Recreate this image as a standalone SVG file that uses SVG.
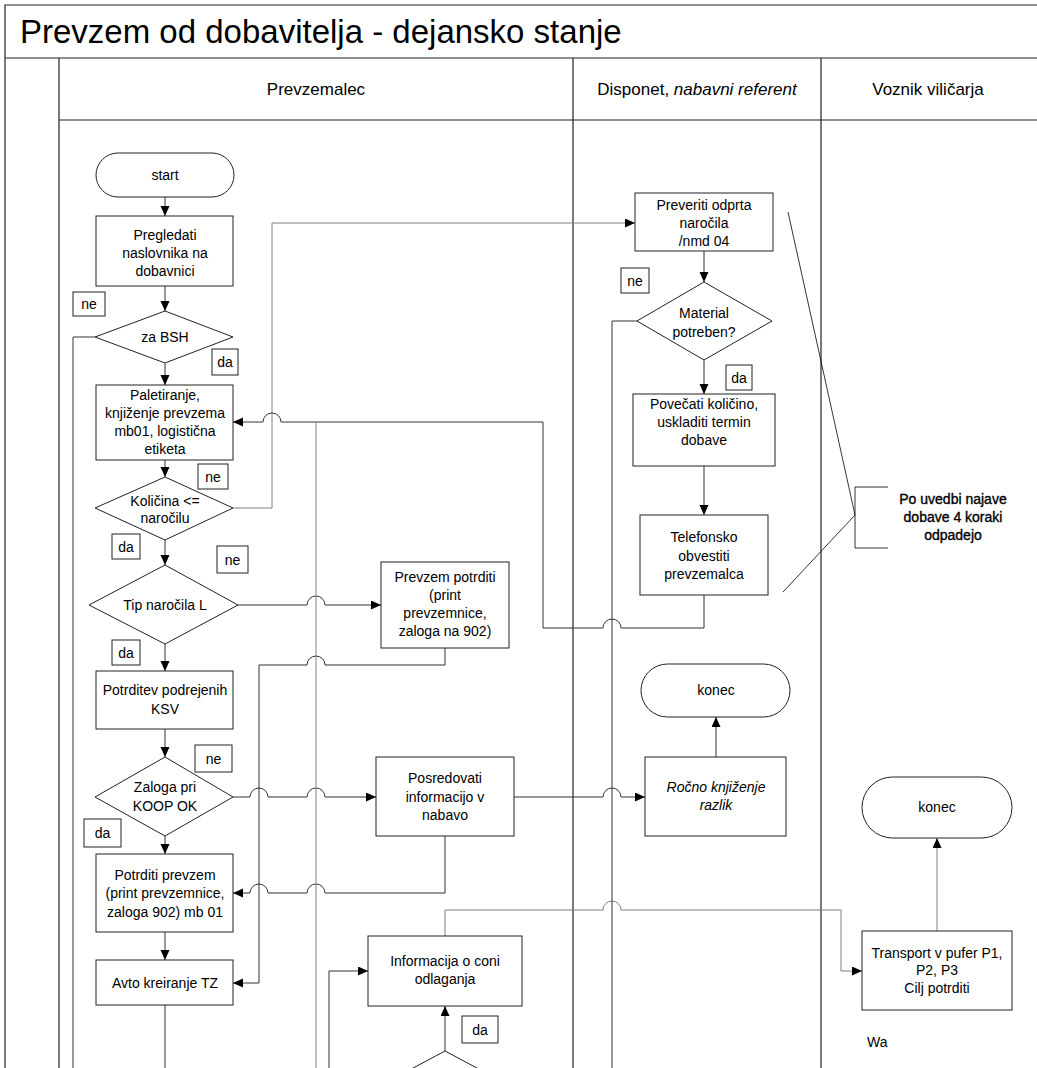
<svg xmlns="http://www.w3.org/2000/svg" width="1037" height="1068" viewBox="0 0 1037 1068">
<defs>
<marker id="arr" markerUnits="userSpaceOnUse" markerWidth="11" markerHeight="10" refX="10" refY="4.5" orient="auto"><path d="M0,0 L10,4.5 L0,9 z" fill="#000"/></marker>
<style>
text{font-family:"Liberation Sans",Arial,sans-serif;fill:#000}
.n{font-size:14px;text-anchor:middle}
.lb{font-size:14px;text-anchor:middle}
.hd{font-size:17px;text-anchor:middle}
.box{fill:#fff;stroke:#222;stroke-width:1}
.lab{fill:#fff;stroke:#222;stroke-width:1}
.frame{fill:none;stroke:#222;stroke-width:1.2}
.c{fill:none;stroke:#333;stroke-width:1}
.g{fill:none;stroke:#808080;stroke-width:1}
.ca{fill:none;stroke:#333;stroke-width:1;marker-end:url(#arr)}
.ga{fill:none;stroke:#808080;stroke-width:1;marker-end:url(#arr)}
.an{fill:none;stroke:#000;stroke-width:0.8}
</style>
</defs>
<rect width="1037" height="1068" fill="#fff"/>
<g id="frame">
<path class="frame" d="M1040,5 H5 V1068 M5,58 H1040 M59,58 V1068 M59,120 H1040 M573,58 V1068 M821,58 V1068"/>
<text x="20" y="43" style="font-size:33px">Prevzem od dobavitelja - dejansko stanje</text>
<text class="hd" x="316" y="95">Prevzemalec</text>
<text class="hd" x="697" y="95">Disponet, <tspan font-style="italic">nabavni referent</tspan></text>
<text class="hd" x="928" y="95">Voznik viličarja</text>
</g>
<g id="connectors">
<path class="ca" d="M165,197 V216"/>
<path class="ca" d="M165,286 V311"/>
<path class="c" d="M95,337 H73 V1068"/>
<path class="ca" d="M165,363 V385"/>
<path class="ca" d="M165,460 V477"/>
<path class="ga" d="M233,508 H272 V223 H635"/>
<path class="ca" d="M165,540 V565"/>
<path class="ca" d="M238,605 H307 a9,9 0 0 1 18,0 H381"/>
<path class="ca" d="M165,644 V671"/>
<path class="ca" d="M445,648 V665 H325 a9,9 0 0 0 -18,0 H259 V983 H233"/>
<path class="ca" d="M165,729 V757"/>
<path class="ca" d="M233,797 H250 a9,9 0 0 1 18,0 H307 a9,9 0 0 1 18,0 H376"/>
<path class="ca" d="M165,836 V854"/>
<path class="ca" d="M445,836 V893 H325 a9,9 0 0 0 -18,0 H268 a9,9 0 0 0 -18,0 H233"/>
<path class="ca" d="M514,797 H603 a9,9 0 0 1 18,0 H645"/>
<path class="ca" d="M716,757 V717"/>
<path class="ca" d="M165,932 V960"/>
<path class="c" d="M165,1005 V1068"/>
<path class="ca" d="M329,1068 V971 H368"/>
<path class="ga" d="M445,936 V910 H603 a9,9 0 0 1 18,0 H841 V971 H862"/>
<path class="ga" d="M937,931 V838"/>
<path class="ca" d="M445,1051 V1006"/>
<path class="ca" d="M704,251 V282"/>
<path class="c" d="M637,321 H612 V1068"/>
<path class="ca" d="M704,360 V394"/>
<path class="ca" d="M704,466 V515"/>
<path class="ca" d="M704,595 V628 H621 a9,9 0 0 0 -18,0 H543 V422 H281 a9,9 0 0 0 -18,0 H233"/>
<path class="g" d="M316,422 V1068"/>
</g>
<g id="start"><rect class="box" x="96" y="153" width="138" height="44" rx="22"/><text class="n" x="165" y="180">start</text></g>
<g id="pregledati"><rect class="box" x="96" y="216" width="137" height="70"/><text class="n" x="165" y="240">Pregledati</text><text class="n" x="165" y="258">naslovnika na</text><text class="n" x="165" y="276">dobavnici</text></g>
<g id="zaBSH"><polygon class="box" points="165,311 233,337 165,363 95,337"/><text class="n" x="165" y="342">za BSH</text></g>
<g id="paletiranje"><rect class="box" x="96" y="385" width="137" height="75"/><text class="n" x="165" y="400">Paletiranje,</text><text class="n" x="165" y="418">knjiženje prevzema</text><text class="n" x="165" y="436">mb01, logistična</text><text class="n" x="165" y="454">etiketa</text></g>
<g id="kolicina"><polygon class="box" points="165,477 233,508 165,540 95,508"/><text class="n" x="165" y="506">Količina &lt;=</text><text class="n" x="165" y="523">naročilu</text></g>
<g id="tip"><polygon class="box" points="165,565 238,605 165,644 89,605"/><text class="n" x="165" y="610">Tip naročila L</text></g>
<g id="potrditev"><rect class="box" x="96" y="671" width="137" height="58"/><text class="n" x="165" y="695">Potrditev podrejenih</text><text class="n" x="165" y="714">KSV</text></g>
<g id="zaloga"><polygon class="box" points="165,757 233,797 165,836 95,797"/><text class="n" x="165" y="792">Zaloga pri</text><text class="n" x="165" y="811">KOOP OK</text></g>
<g id="potrditiPrevzem"><rect class="box" x="96" y="854" width="137" height="78"/><text class="n" x="165" y="880">Potrditi prevzem</text><text class="n" x="165" y="898">(print prevzemnice,</text><text class="n" x="165" y="917">zaloga 902) mb 01</text></g>
<g id="avto"><rect class="box" x="96" y="960" width="137" height="45"/><text class="n" x="165" y="988">Avto kreiranje TZ</text></g>
<g id="prevzemPotrditi"><rect class="box" x="381" y="562" width="128" height="86"/><text class="n" x="445" y="582">Prevzem potrditi</text><text class="n" x="445" y="600">(print</text><text class="n" x="445" y="618">prevzemnice,</text><text class="n" x="445" y="636">zaloga na 902)</text></g>
<g id="posredovati"><rect class="box" x="376" y="757" width="138" height="79"/><text class="n" x="445" y="783">Posredovati</text><text class="n" x="445" y="802">informacijo v</text><text class="n" x="445" y="820">nabavo</text></g>
<g id="informacija"><rect class="box" x="368" y="936" width="154" height="70"/><text class="n" x="445" y="966">Informacija o coni</text><text class="n" x="445" y="984">odlaganja</text></g>
<g id="odlocitev"><polygon class="box" points="445,1051 520,1091 445,1131 370,1091"/></g>
<g id="preveriti"><rect class="box" x="635" y="193" width="138" height="58"/><text class="n" x="704" y="210">Preveriti odprta</text><text class="n" x="704" y="228">naročila</text><text class="n" x="704" y="246">/nmd 04</text></g>
<g id="material"><polygon class="box" points="704,282 772,321 704,360 637,321"/><text class="n" x="704" y="318">Material</text><text class="n" x="704" y="337">potreben?</text></g>
<g id="povecati"><rect class="box" x="633" y="394" width="142" height="72"/><text class="n" x="704" y="409">Povečati količino,</text><text class="n" x="704" y="427">uskladiti termin</text><text class="n" x="704" y="445">dobave</text></g>
<g id="telefonsko"><rect class="box" x="640" y="515" width="128" height="80"/><text class="n" x="704" y="542">Telefonsko</text><text class="n" x="704" y="561">obvestiti</text><text class="n" x="704" y="579">prevzemalca</text></g>
<g id="konec1"><rect class="box" x="641" y="664" width="149" height="53" rx="26.5"/><text class="n" x="716" y="695">konec</text></g>
<g id="rocno"><rect class="box" x="645" y="757" width="141" height="79"/><text class="n" x="716" y="792" font-style="italic">Ročno knjiženje</text><text class="n" x="716" y="810" font-style="italic">razlik</text></g>
<g id="konec2"><rect class="box" x="862" y="777" width="150" height="61" rx="30.5"/><text class="n" x="937" y="812">konec</text></g>
<g id="transport"><rect class="box" x="862" y="931" width="150" height="79"/><text class="n" x="937" y="958">Transport v pufer P1,</text><text class="n" x="937" y="975">P2, P3</text><text class="n" x="937" y="993">Cilj potrditi</text></g>
<g id="wa"><text x="867" y="1047" style="font-size:14px">Wa</text></g>
<g id="labels">
<rect class="lab" x="73" y="292" width="32" height="24"/><text class="lb" x="89" y="309">ne</text>
<rect class="lab" x="212" y="349" width="26" height="26"/><text class="lb" x="225" y="367">da</text>
<rect class="lab" x="198" y="464" width="30" height="25"/><text class="lb" x="213" y="482">ne</text>
<rect class="lab" x="112" y="534" width="28" height="25"/><text class="lb" x="126" y="552">da</text>
<rect class="lab" x="217" y="546" width="31" height="27"/><text class="lb" x="232.5" y="565">ne</text>
<rect class="lab" x="112" y="640" width="28" height="25"/><text class="lb" x="126" y="658">da</text>
<rect class="lab" x="195" y="745" width="37" height="27"/><text class="lb" x="213.5" y="764">ne</text>
<rect class="lab" x="84" y="819" width="37" height="28"/><text class="lb" x="102.5" y="838">da</text>
<rect class="lab" x="621" y="268" width="28" height="25"/><text class="lb" x="635" y="286">ne</text>
<rect class="lab" x="726" y="365" width="26" height="25"/><text class="lb" x="739" y="383">da</text>
<rect class="lab" x="462" y="1016" width="36" height="27"/><text class="lb" x="480" y="1035">da</text>
</g>
<g id="annotation">
<path class="an" d="M788,212 L855,515 L783,592"/>
<path class="an" d="M888,487 H855 V548 H888"/>
<text class="n" x="953" y="504" stroke="#000" stroke-width="0.35">Po uvedbi najave</text>
<text class="n" x="953" y="522" stroke="#000" stroke-width="0.35">dobave 4 koraki</text>
<text class="n" x="953" y="540" stroke="#000" stroke-width="0.35">odpadejo</text>
</g>
</svg>
